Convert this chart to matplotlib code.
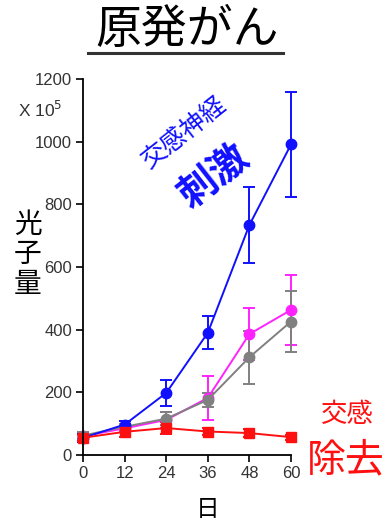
import matplotlib.pyplot as plt
from matplotlib.lines import Line2D

W, H = 386, 524
fig = plt.figure(figsize=(W / 100, H / 100), dpi=100)

jp = ['Noto Sans CJK JP', 'DejaVu Sans']
num = 'Liberation Sans'

days = [0, 12, 24, 36, 48, 60]
blue = [55, 97, 198, 390, 734, 991]
blue_err = [12, 12, 42, 53, 121, 166]
magenta = [60, 85, 112, 182, 386, 463]
magenta_err = [10, 10, 25, 70, 82, 113]
gray = [62, 90, 116, 176, 312, 426]
gray_err = [10, 10, 20, 22, 85, 98]
red = [55, 74, 86, 75, 70, 57]
red_err = [10, 15, 20, 12, 12, 8]

xticks = [0, 12, 24, 36, 48, 60]
yticks = [0, 200, 400, 600, 800, 1000, 1200]


def px(x, y):
    # pixel position -> figure fraction
    return x / W, 1 - y / H


ax = fig.add_axes([83 / W, 69 / H, 208 / W, 376 / H])

series = [
    (magenta, magenta_err, '#ff22ff', 'o', 7.5),
    (gray, gray_err, '#808080', 'o', 7.5),
    (blue, blue_err, '#1010ff', 'o', 7.5),
    (red, red_err, '#ff1010', 's', 6.5),
]
for vals, err, c, m, ms in series:
    ax.errorbar(days, vals, yerr=err, color=c, marker=m, ms=ms, lw=1.4,
                elinewidth=1.4, capsize=4.5, capthick=1.4, clip_on=False)

ax.set_xlim(0, 60)
ax.set_ylim(0, 1200)
ax.set_xticks(xticks)
ax.set_yticks(yticks)
ax.spines[['top', 'right']].set_visible(False)
for s in ['left', 'bottom']:
    ax.spines[s].set_linewidth(1.3)
ax.tick_params(length=5, width=1.2, colors='black', labelcolor='#333333',
               labelsize=12, pad=3)
for lab in ax.get_xticklabels() + ax.get_yticklabels():
    lab.set_fontfamily(num)

# title with underline
fig.text(*px(187, 30), '原発がん', family=jp, fontsize=33, ha='center', va='center')
fig.add_artist(Line2D([88 / W, 283 / W], [1 - 53 / H, 1 - 53 / H],
                      color='#333333', lw=2.2))

fig.text(*px(18, 110), 'X 10$^5$', family=num, fontsize=12.5, color='#333333',
         ha='left', va='center')

for ch, y in zip('光子量', [225, 254, 284]):
    fig.text(*px(28, y), ch, family=jp, fontsize=20, ha='center', va='center')
fig.text(*px(208, 510), '日', family=jp, fontsize=17, ha='center', va='center')

fig.text(*px(184, 133), '交感神経', family=jp, fontsize=18, color='#1010ff',
         rotation=38, ha='center', va='center')
fig.text(*px(214, 176), '刺激', family=jp, fontsize=28, weight='bold',
         color='#1010ff', rotation=38, ha='center', va='center')

fig.text(*px(347, 415), '交感', family=jp, fontsize=19, color='#ff1010',
         ha='center', va='center')
fig.text(*px(346, 460), '除去', family=jp, fontsize=28, color='#ff1010',
         ha='center', va='center')

fig.savefig('out.png', dpi=100)
